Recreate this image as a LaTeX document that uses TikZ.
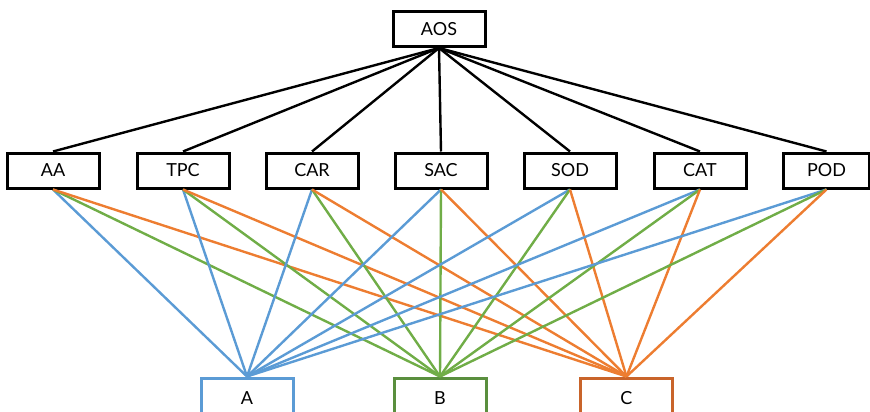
\documentclass[tikz,border=0pt]{standalone}
\usepackage{fontspec}
\setmainfont{Lato}
\usetikzlibrary{positioning}
\definecolor{lblue}{HTML}{5B9BD5}
\definecolor{lgreen}{HTML}{70AD47}
\definecolor{lorange}{HTML}{ED7D31}
\definecolor{dgreen}{HTML}{5A8F3E}
\definecolor{dorange}{HTML}{C9642A}
\tikzset{crit/.style={draw,line width=3pt,minimum width=92pt,minimum height=35pt,inner sep=0pt,font=\fontsize{18}{20}\selectfont}}
\tikzset{alt/.style={crit,draw=#1,line width=3pt,minimum height=40pt}}
\tikzset{tie/.style={line width=2.4pt}}

\begin{document}
\begin{tikzpicture}[x=1pt,y=-1pt]
	\useasboundingbox (0,0) rectangle (870,412);
	\node[crit] (aos) at (439,29) {AOS};
	\node[crit] (aa) at (53,170.5) {AA};
	\node[crit] (tpc) at (183,170.5) {TPC};
	\node[crit] (car) at (312,170.5) {CAR};
	\node[crit] (sac) at (441,170.5) {SAC};
	\node[crit] (sod) at (570,170.5) {SOD};
	\node[crit] (cat) at (700,170.5) {CAT};
	\node[crit,minimum width=86pt] (pod) at (826.5,170.5) {POD};
	\node[alt=lblue] (a) at (247,398) {A};
	\node[alt=dgreen] (b) at (440,398) {B};
	\node[alt=dorange] (c) at (626.5,398) {C};
	% criteria to goal
	\foreach \k in {aa,tpc,car,sac,sod,cat,pod}
		\draw[tie,black] (aos.south) -- (\k.north);
	% alternatives
	\foreach \k in {aa,tpc,car,sac,sod,cat,pod} {
		\draw[tie,lblue] (\k.south) -- (a.north);
		\draw[tie,lgreen] (\k.south) -- (b.north);
		\draw[tie,lorange] (\k.south) -- (c.north);
	}
\end{tikzpicture}
\end{document}
